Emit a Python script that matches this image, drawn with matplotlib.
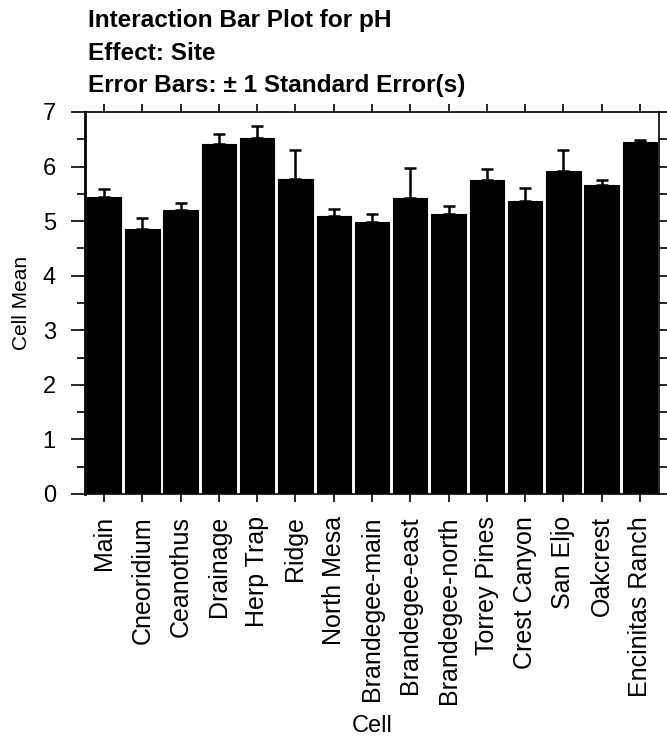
import numpy as np
import matplotlib
matplotlib.use('Agg')
import matplotlib.pyplot as plt
from matplotlib.ticker import MultipleLocator

plt.rcParams['font.family'] = ['Liberation Sans', 'DejaVu Sans']

# 데이터
cells = ['Main', 'Cneoridium', 'Ceanothus', 'Drainage', 'Herp Trap', 'Ridge',
         'North Mesa', 'Brandegee-main', 'Brandegee-east', 'Brandegee-north',
         'Torrey Pines', 'Crest Canyon', 'San Eljo', 'Oakcrest', 'Encinitas Ranch']
means = [5.44, 4.85, 5.20, 6.42, 6.52, 5.78, 5.09, 4.99, 5.43, 5.13, 5.76, 5.37, 5.91, 5.66, 6.45]
std_err = [0.14, 0.20, 0.13, 0.18, 0.23, 0.52, 0.14, 0.14, 0.54, 0.14, 0.19, 0.24, 0.39, 0.09, 0.04]
y_ticks = [0, 1, 2, 3, 4, 5, 6, 7]

fig = plt.figure(figsize=(6.67, 7.42), dpi=100)
ax = fig.add_axes([85/667, 1 - 494/742, 574/667, 382/742])

x = np.arange(len(cells))
ax.bar(x, means, width=0.9, color='black', edgecolor='black', linewidth=0.8)
ax.errorbar(x, means, yerr=[np.zeros(len(std_err)), std_err], fmt='none',
            ecolor='black', elinewidth=1.8, capsize=4.5, capthick=1.8)

ax.set_xlim(-0.5, len(cells) - 0.5)
ax.set_ylim(0, 7)
ax.set_yticks(y_ticks)
ax.yaxis.set_minor_locator(MultipleLocator(0.5))
ax.set_xticks(x)
ax.set_xticklabels(cells, rotation=90, fontsize=18)
ax.tick_params(axis='y', labelsize=17)

ax.tick_params(which='both', direction='out', top=True, right=True, width=1.2)
ax.tick_params(axis='y', which='major', length=10, pad=11)
ax.tick_params(axis='y', which='minor', length=6)
ax.tick_params(axis='x', which='major', length=6, pad=10)

for s in ax.spines.values():
    s.set_linewidth(1.2)
ax.spines['left'].set_linewidth(2)

ax.set_ylabel('Cell Mean', fontsize=15, labelpad=8)
ax.set_xlabel('Cell', fontsize=17, labelpad=8)

titles = ['Interaction Bar Plot for pH', 'Effect: Site', 'Error Bars: \u00b1 1 Standard Error(s)']
for i, t in enumerate(titles):
    fig.text(88/667, 1 - (27 + 32.5 * i)/742, t, fontsize=17.6, fontweight='bold',
             va='baseline', ha='left')

fig.savefig('out.png', dpi=100)
